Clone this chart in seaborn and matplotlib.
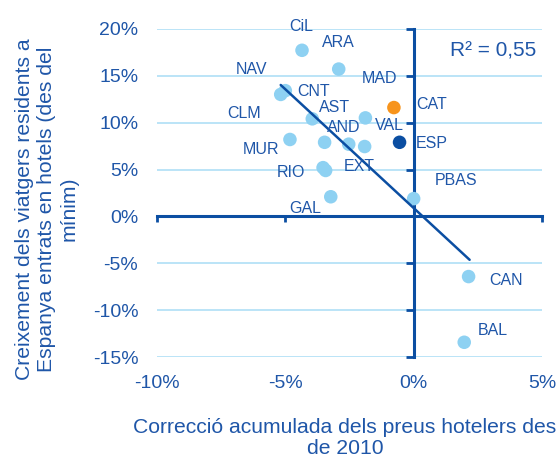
import numpy as np
import pandas as pd
import matplotlib
matplotlib.use("Agg")
import matplotlib.pyplot as plt
import seaborn as sns

# ---- data ----
regions = ["CiL", "ARA", "NAV", "CNT", "AST", "MAD", "CAT", "VAL", "AND", "CLM",
           "MUR", "ESP", "RIO", "EXT", "GAL", "PBAS", "CAN", "BAL"]
price_corr = [-4.35, -2.92, -5.18, -5.00, -3.95, -1.88, -0.77, -1.91, -2.53, -3.47,
              -4.82, -0.55, -3.53, -3.43, -3.23, 0.00, 2.14, 1.97]
growth = [17.7, 15.7, 13.0, 13.4, 10.4, 10.5, 11.6, 7.45, 7.7, 7.9,
          8.2, 7.9, 5.2, 4.9, 2.1, 1.9, -6.4, -13.4]
group = ["reg"] * 18
group[regions.index("CAT")] = "cat"
group[regions.index("ESP")] = "esp"
# label offsets (pixels) relative to each point
lab_dx = [-1, 0, -29, 28, 22, 14, 38, 25, -5, -80, -29, 32, -32, 34, -26, 42, 37, 29]
lab_dy = [24, 27, 25, -1, 11, 39, 3, 21, 17, 29, -10, -1, -5, 4, -12, 18, -4, 12]
# trend line
trend_x = [-5.18, 2.18]
trend_slope = -2.53
trend_intercept = 0.9
x_ticks = [-10, -5, 0, 5]
y_ticks = [-15, -10, -5, 0, 5, 10, 15, 20]
r2_text = "R² = 0,55"

df = pd.DataFrame({"region": regions, "x": price_corr, "y": growth, "g": group})
trend = pd.DataFrame({"x": trend_x})
trend["y"] = trend_intercept + trend_slope * trend["x"]

DARK = "#0B4EA2"
TXT = "#1F56A8"
LIGHT = "#8ED1F2"
GRID = "#B5E2F7"
ORANGE = "#F7941D"

sns.set_theme(style="white")
plt.rcParams["font.family"] = ["Liberation Sans", "DejaVu Sans"]

fig = plt.figure(figsize=(5.6, 4.57), dpi=100)
ax = fig.add_axes([157/560, 1-357.3/457, (542-157)/560, (357.3-28.7)/457])

ax.set_xlim(-10, 5)
ax.set_ylim(-15, 20)

for yv in y_ticks:
    if yv != 0:
        ax.axhline(yv, color=GRID, lw=1.3, zorder=0)

sns.lineplot(data=trend, x="x", y="y", color=DARK, lw=1.8, ax=ax, zorder=4)

sns.scatterplot(data=df, x="x", y="y", hue="g",
                palette={"reg": LIGHT, "cat": ORANGE, "esp": DARK},
                s=95, edgecolor="none", legend=False, ax=ax, zorder=3)

for r, xv, yv, dx, dy in zip(regions, price_corr, growth, lab_dx, lab_dy):
    ax.annotate(r, (xv, yv), xytext=(dx, dy), textcoords="offset pixels",
                ha="center", va="center", color=TXT, fontsize=11.5, zorder=5)

ax.text(0.985, 0.96, r2_text, transform=ax.transAxes, ha="right", va="top",
        color=TXT, fontsize=15)

for s in ax.spines.values():
    s.set_visible(False)
ax.set_xticks(x_ticks)
ax.set_yticks(y_ticks)
ax.set_xticklabels([f"{v}%" for v in x_ticks], color=TXT, fontsize=14)
ax.set_yticklabels([f"{v}%" for v in y_ticks], color=TXT, fontsize=14)
ax.tick_params(axis="both", length=0)
ax.tick_params(axis="x", pad=13)
ax.tick_params(axis="y", pad=13.5)

# crossing axes at zero
sy = ax.secondary_yaxis(10/15)
for s in sy.spines.values():
    s.set_color(DARK)
    s.set_linewidth(2.2)
sy.yaxis.set_ticks_position("left")
sy.set_yticks(y_ticks)
sy.set_yticklabels([])
sy.tick_params(axis="y", direction="out", length=5.5, width=2, color=DARK)

sx = ax.secondary_xaxis(15/35)
for s in sx.spines.values():
    s.set_color(DARK)
    s.set_linewidth(2.2)
sx.xaxis.set_ticks_position("bottom")
sx.set_xticks(x_ticks)
sx.set_xticklabels([])
sx.tick_params(axis="x", direction="out", length=4.5, width=2, color=DARK)

ax.set_xlabel("")
ax.set_ylabel("")
fig.text(345/560, 1-438/457, "Correcció acumulada dels preus hotelers des\nde 2010",
         ha="center", va="center", color=TXT, fontsize=15.2, linespacing=1.08)
fig.text(47/560, 1-209/457,
         "Creixement dels viatgers residents a\nEspanya entrats en hotels (des del\nmínim)",
         ha="center", va="center", rotation=90, color=TXT, fontsize=15.2,
         linespacing=1.2)

fig.savefig("out.png", dpi=100)
